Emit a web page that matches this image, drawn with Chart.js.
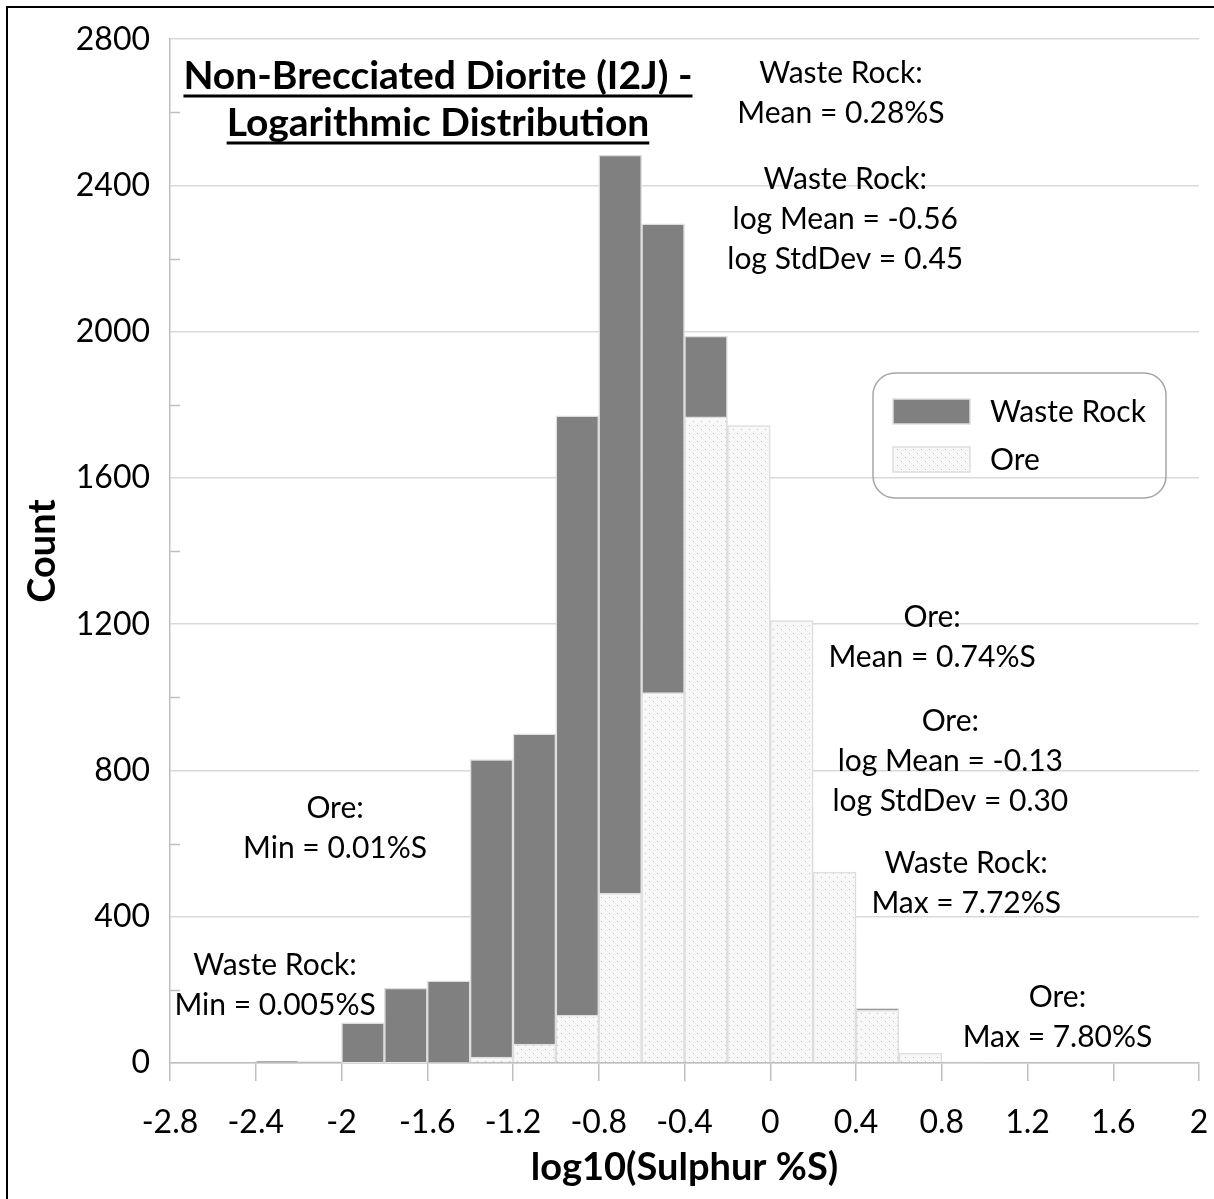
<!DOCTYPE html>
<html lang="en">
<head>
<meta charset="UTF-8">
<title>Non-Brecciated Diorite (I2J) - Logarithmic Distribution</title>
<script src="https://cdn.jsdelivr.net/npm/chart.js"></script>
<style>
  body { margin: 0; overflow: hidden; background: #fff; }
  #wrap { width: 1214px; height: 1199px; }
</style>
</head>
<body>
<div id="wrap"><canvas id="histChart"></canvas></div>
<script>
// bin centres (bin width 0.2, log10 %S)
const binCenters = [-2.3, -2.1, -1.9, -1.7, -1.5, -1.3, -1.1, -0.9, -0.7, -0.5, -0.3, -0.1, 0.1, 0.3, 0.5, 0.7, 0.9];
// counts (waste values hidden behind ore bars are estimates)
const wasteCounts = [5, 3, 110, 205, 225, 830, 900, 1770, 2483, 2295, 1988, 1300, 700, 350, 150, 20, 2];
const oreCounts   = [0, 0, 1, 1, 2, 16, 52, 131, 464, 1013, 1767, 1743, 1210, 522, 145, 27, 3];
const seriesNames = ['Waste Rock', 'Ore'];
const xTicks = { min: -2.8, max: 2, step: 0.4 };
const yTicks = { min: 0, max: 2800, step: 400, minorStep: 200 };

const titleLines = ['Non-Brecciated Diorite (I2J) -', 'Logarithmic Distribution'];
// text blocks: centre x and first-line y in data units
const notes = [
  { x: 0.33, y: 2707, lines: ['Waste Rock:', 'Mean = 0.28%S'] },
  { x: 0.35, y: 2418, lines: ['Waste Rock:', 'log Mean = -0.56', 'log StdDev = 0.45'] },
  { x: 0.755, y: 1218, lines: ['Ore:', 'Mean = 0.74%S'] },
  { x: 0.84, y: 934, lines: ['Ore:', 'log Mean = -0.13', 'log StdDev = 0.30'] },
  { x: -2.03, y: 697, lines: ['Ore:', 'Min = 0.01%S'] },
  { x: 0.914, y: 546, lines: ['Waste Rock:', 'Max = 7.72%S'] },
  { x: 1.34, y: 180, lines: ['Ore:', 'Max = 7.80%S'] },
  { x: -2.31, y: 268, lines: ['Waste Rock:', 'Min = 0.005%S'] }
];

const FONT = 'Lato, "Open Sans", sans-serif';
const wasteColor = '#808080';
const barEdge = '#dedede';

// stippled fill for the ore bars
function makeDots() {
  const c = document.createElement('canvas');
  c.width = 8; c.height = 8;
  const g = c.getContext('2d');
  g.fillStyle = '#f8f8f8';
  g.fillRect(0, 0, 8, 8);
  g.fillStyle = '#bdbdbd';
  g.fillRect(1, 1, 1, 1);
  g.fillRect(5, 5, 1, 1);
  return g.createPattern(c, 'repeat');
}
const ctx = document.getElementById('histChart').getContext('2d');
const dots = makeDots();

const extras = {
  id: 'extras',
  beforeDraw(chart) {
    const c = chart.ctx;
    c.save();
    c.fillStyle = '#fff';
    c.fillRect(0, 0, chart.width, chart.height);
    c.strokeStyle = '#000';
    c.lineWidth = 2;
    c.beginPath();
    c.moveTo(7, chart.height);
    c.lineTo(7, 7);
    c.lineTo(chart.width, 7);
    c.stroke();
    c.restore();
  },
  afterDraw(chart) {
    const c = chart.ctx;
    const xs = chart.scales.x, ys = chart.scales.y;
    c.save();
    // minor ticks on the value axis (inside)
    c.strokeStyle = '#bfbfbf';
    c.lineWidth = 1.5;
    for (let v = yTicks.minorStep; v < yTicks.max; v += yTicks.step) {
      const py = Math.round(ys.getPixelForValue(v)) + 0.5;
      c.beginPath();
      c.moveTo(xs.left, py);
      c.lineTo(xs.left + 10, py);
      c.stroke();
    }
    // title
    c.fillStyle = '#000';
    c.textAlign = 'center';
    c.textBaseline = 'middle';
    c.font = 'bold 39px ' + FONT;
    const tx = xs.getPixelForValue(-1.55);
    titleLines.forEach((t, i) => {
      const py = ys.getPixelForValue(2698) + i * 47;
      c.fillText(t, tx, py);
      const w = c.measureText(t).width;
      c.fillRect(tx - w / 2, py + 18, w, 3);
    });
    // notes
    c.font = '30px ' + FONT;
    notes.forEach(n => {
      const px = xs.getPixelForValue(n.x);
      const py = ys.getPixelForValue(n.y);
      n.lines.forEach((t, i) => c.fillText(t, px, py + i * 40));
    });
    // legend
    const lx = 873, ly = 373, lw = 293, lh = 125;
    c.strokeStyle = '#a6a6a6';
    c.lineWidth = 1.5;
    c.beginPath();
    c.roundRect(lx, ly, lw, lh, 22);
    c.stroke();
    const fills = [wasteColor, dots];
    c.textAlign = 'left';
    c.font = '30px ' + FONT;
    seriesNames.forEach((name, i) => {
      const sy = ly + 26 + i * 48;
      c.fillStyle = fills[i];
      c.fillRect(lx + 20, sy, 77, 25);
      c.strokeStyle = barEdge;
      c.lineWidth = 1.5;
      c.strokeRect(lx + 20, sy, 77, 25);
      c.fillStyle = '#000';
      c.fillText(name, lx + 117, sy + 13);
    });
    c.restore();
  }
};

new Chart(ctx, {
  type: 'bar',
  data: {
    datasets: [
      {
        label: seriesNames[0],
        data: binCenters.map((x, i) => ({ x: x, y: wasteCounts[i] })),
        backgroundColor: wasteColor,
        borderColor: barEdge,
        borderWidth: 1.5,
        order: 2
      },
      {
        label: seriesNames[1],
        data: binCenters.map((x, i) => ({ x: x, y: oreCounts[i] })),
        backgroundColor: dots,
        borderColor: barEdge,
        borderWidth: 1.5,
        order: 1
      }
    ]
  },
  options: {
    responsive: true,
    maintainAspectRatio: false,
    animation: false,
    grouped: false,
    barPercentage: 1,
    categoryPercentage: 1,
    layout: { padding: { top: 38, right: 15, left: 0, bottom: 0 } },
    plugins: { legend: { display: false }, tooltip: { enabled: false } },
    scales: {
      x: {
        type: 'linear',
        offset: false,
        min: xTicks.min,
        max: xTicks.max,
        afterFit: s => { s.height = 136; s.paddingLeft = 0; s.paddingRight = 0; },
        grid: { drawOnChartArea: false, drawTicks: true, tickLength: 18, color: '#bfbfbf', lineWidth: 1.5, offset: false },
        border: { color: '#bfbfbf', width: 1.5 },
        ticks: {
          stepSize: xTicks.step,
          padding: 22,
          color: '#000',
          font: { family: FONT, size: 32 },
          maxRotation: 0,
          callback: v => String(Math.round(v * 10) / 10)
        },
        title: { display: true, text: 'log10(Sulphur %S)', color: '#000', font: { family: FONT, size: 38, weight: 'bold' }, padding: { top: 0, bottom: 8 } }
      },
      y: {
        min: yTicks.min,
        max: yTicks.max,
        afterFit: s => { s.width = 170; },
        grid: { color: '#d9d9d9', lineWidth: 1.5, drawTicks: false },
        border: { color: '#bfbfbf', width: 1.5 },
        ticks: {
          stepSize: yTicks.step,
          padding: 20,
          color: '#000',
          font: { family: FONT, size: 32 },
          callback: v => String(v)
        },
        title: { display: true, text: 'Count', color: '#000', font: { family: FONT, size: 38, weight: 'bold' }, padding: { top: 20, bottom: 0 } }
      }
    }
  },
  plugins: [extras]
});
</script>
</body>
</html>
